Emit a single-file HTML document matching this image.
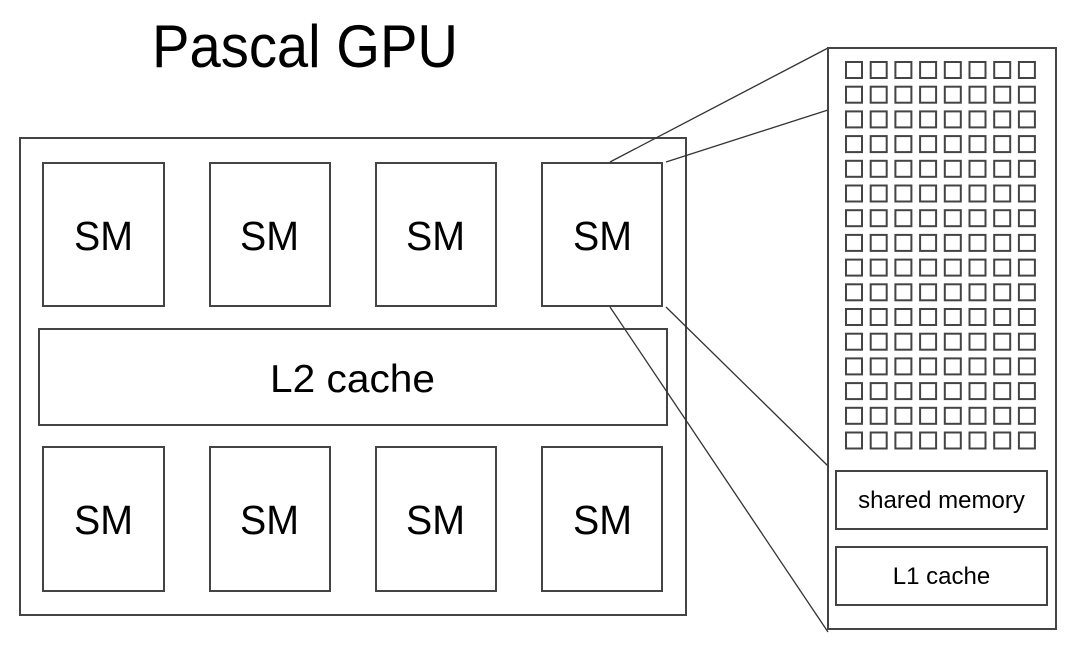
<!DOCTYPE html>
<html><head><meta charset="utf-8"><style>html,body{margin:0;padding:0;background:#fff}svg{display:block}</style></head>
<body>
<svg width="1080" height="651" viewBox="0 0 1080 651" xmlns="http://www.w3.org/2000/svg" xmlns:xlink="http://www.w3.org/1999/xlink" font-family="Liberation Sans, Arial, sans-serif" fill="none" stroke="#444" stroke-width="2">
<text x="152" y="67" font-size="60" fill="#000" stroke="none" textLength="306" lengthAdjust="spacingAndGlyphs">Pascal GPU</text>
<rect x="20" y="138" width="666" height="477"/>
<g>
<rect x="43" y="163" width="121" height="143"/><rect x="210" y="163" width="120" height="143"/><rect x="376" y="163" width="120" height="143"/><rect x="542" y="163" width="120" height="143"/>
<rect x="43" y="447" width="121" height="144"/><rect x="210" y="447" width="120" height="144"/><rect x="376" y="447" width="120" height="144"/><rect x="542" y="447" width="120" height="144"/>
<rect x="39" y="329" width="628" height="96"/>
</g>
<g fill="#000" stroke="none" font-size="41">
<text x="74" y="250" textLength="59" lengthAdjust="spacingAndGlyphs">SM</text>
<text x="240" y="250" textLength="59" lengthAdjust="spacingAndGlyphs">SM</text>
<text x="406" y="250" textLength="59" lengthAdjust="spacingAndGlyphs">SM</text>
<text x="573" y="250" textLength="59" lengthAdjust="spacingAndGlyphs">SM</text>
<text x="74" y="534" textLength="59" lengthAdjust="spacingAndGlyphs">SM</text>
<text x="240" y="534" textLength="59" lengthAdjust="spacingAndGlyphs">SM</text>
<text x="406" y="534" textLength="59" lengthAdjust="spacingAndGlyphs">SM</text>
<text x="573" y="534" textLength="59" lengthAdjust="spacingAndGlyphs">SM</text>
<text x="270" y="392" font-size="39" textLength="165" lengthAdjust="spacingAndGlyphs">L2 cache</text>
</g>
<g stroke-width="1.3" stroke="#333">
<line x1="610" y1="162" x2="828" y2="48"/>
<line x1="666" y1="162" x2="828" y2="110"/>
<line x1="666" y1="307" x2="828" y2="466"/>
<line x1="610" y1="307" x2="828" y2="632"/>
</g>
<rect x="828" y="48" width="228" height="581"/>
<defs>
<g id="row" stroke="#444" stroke-width="2" fill="none">
<rect x="846" y="62" width="16" height="16"/>
<rect x="870.7" y="62" width="16" height="16"/>
<rect x="895.4" y="62" width="16" height="16"/>
<rect x="920.1" y="62" width="16" height="16"/>
<rect x="944.8" y="62" width="16" height="16"/>
<rect x="969.5" y="62" width="16" height="16"/>
<rect x="994.2" y="62" width="16" height="16"/>
<rect x="1018.9" y="62" width="16" height="16"/>
</g>
</defs>
<use xlink:href="#row" href="#row" y="0"/>
<use xlink:href="#row" href="#row" y="24.7"/>
<use xlink:href="#row" href="#row" y="49.4"/>
<use xlink:href="#row" href="#row" y="74.1"/>
<use xlink:href="#row" href="#row" y="98.8"/>
<use xlink:href="#row" href="#row" y="123.5"/>
<use xlink:href="#row" href="#row" y="148.2"/>
<use xlink:href="#row" href="#row" y="172.9"/>
<use xlink:href="#row" href="#row" y="197.6"/>
<use xlink:href="#row" href="#row" y="222.3"/>
<use xlink:href="#row" href="#row" y="247"/>
<use xlink:href="#row" href="#row" y="271.7"/>
<use xlink:href="#row" href="#row" y="296.4"/>
<use xlink:href="#row" href="#row" y="321.1"/>
<use xlink:href="#row" href="#row" y="345.8"/>
<use xlink:href="#row" href="#row" y="370.5"/>
<rect x="836" y="471" width="211" height="58"/>
<rect x="836" y="547" width="211" height="58"/>
<g fill="#000" stroke="none" font-size="24">
<text x="941.5" y="508" text-anchor="middle">shared memory</text>
<text x="941.5" y="584" text-anchor="middle">L1 cache</text>
</g>
</svg>
</body></html>
